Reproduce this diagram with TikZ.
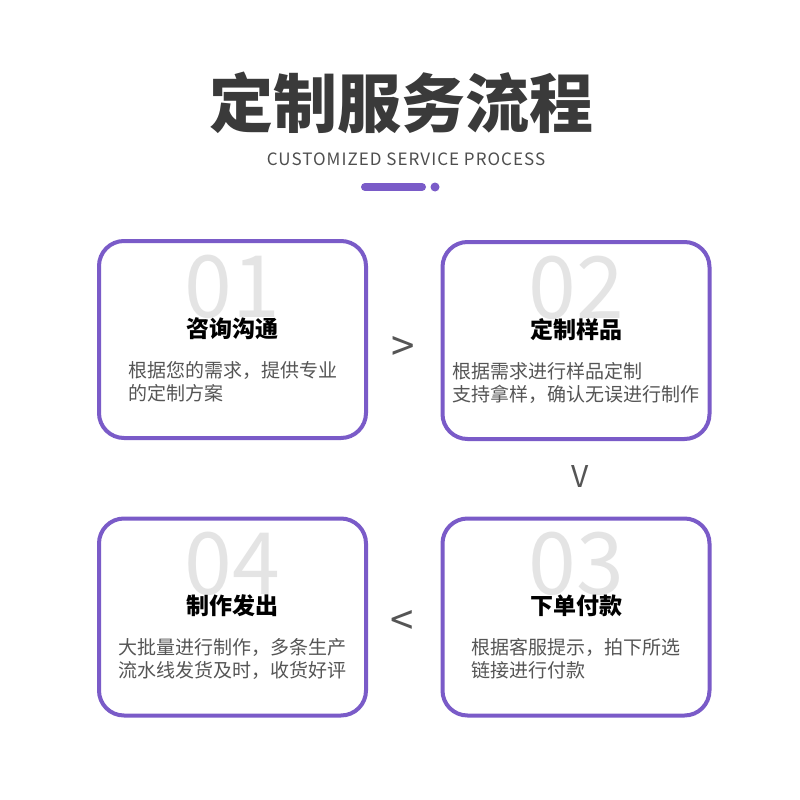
\documentclass[tikz,border=0pt]{standalone}
\usepackage{fontspec}
\setmainfont{Noto Sans CJK SC}
\usepackage{tikz}
\usetikzlibrary{positioning,calc}
\definecolor{pcol}{HTML}{7A5BC8}
\definecolor{ttlc}{HTML}{3A3A3A}
\definecolor{txtc}{HTML}{555555}
\definecolor{numc}{HTML}{E4E4E4}
\newcommand{\fsz}[1]{\fontsize{#1}{#1}\selectfont}
\newcommand{\card}[5]{%
  \node[card] (#1) at (#2) {};
  \node[font=\fsz{86}, text=numc] (#1n) at ($(#1.center)+(0,-53)$) {#3};
  \node[font=\fsz{23}\bfseries] (#1h) at ($(#1.center)+(0,-11)$) {#4};
  \node[font=\fontsize{19}{23}\selectfont, text=txtc, align=left] (#1b)
    at ($(#1.center)+(0,42)$) {#5};}

\begin{document}
\begin{tikzpicture}[x=1pt, y=-1pt,
  card/.style={draw=pcol, line width=4pt, rounded corners=25pt,
    minimum width=267pt, minimum height=197pt, inner sep=0pt},
  sign/.style={font=\fsz{42}, text=txtc, inner sep=0pt}]
  \useasboundingbox[fill=white] (0,0) rectangle (800,800);
  % title
  \node[font=\fsz{64}\bfseries, text=ttlc] (ttl) at (401,103) {定制服务流程};
  \node[font=\fsz{17}\addfontfeature{LetterSpace=6}, text=ttlc!90]
    (sub) at (406,159) {CUSTOMIZED SERVICE PROCESS};
  \coordinate (barl) at (365,187);
  \coordinate (barr) at (422,187);
  \draw[pcol, line width=8pt, line cap=round] (barl) -- (barr);
  \fill[pcol] (435,187) circle (4.5);
  % steps
  \card{c1}{232.5,339.5}{01}{咨询沟通}{根据您的需求，提供专业\\的定制方案}
  \card{c2}{576,340.5}{02}{定制样品}{根据需求进行样品定制\\支持拿样，确认无误进行制作}
  \card{c3}{576,617}{03}{下单付款}{根据客服提示，拍下所选\\链接进行付款}
  \card{c4}{232.5,617}{04}{制作发出}{大批量进行制作，多条生产\\流水线发货及时，收货好评}
  % order signs
  \node[sign] (g12) at ($(c1.east)!0.5!(c2.west)+(-1,9)$) {>};
  \node[sign, font=\fsz{30}] (g23) at ($(c2.south)!0.5!(c3.north)+(4,-2)$) {V};
  \node[sign] (g34) at ($(c3.west)!0.5!(c4.east)+(-2,6)$) {<};
\end{tikzpicture}
\end{document}
